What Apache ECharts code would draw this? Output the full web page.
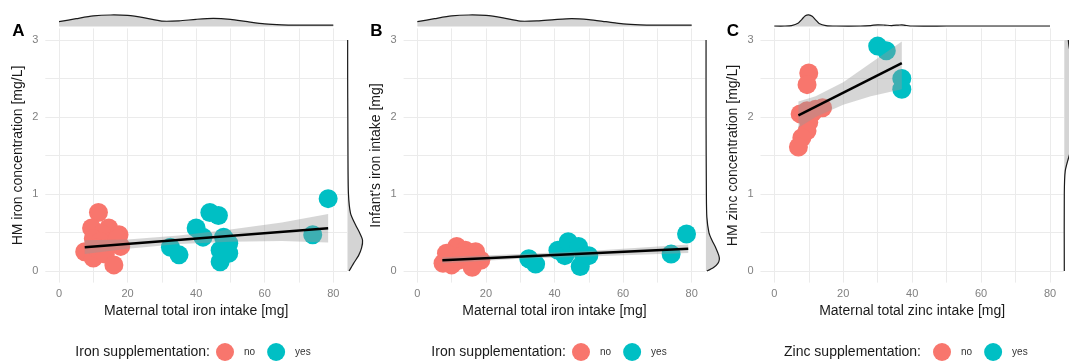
<!DOCTYPE html>
<html>
<head>
<meta charset="utf-8">
<script src="https://cdn.jsdelivr.net/npm/echarts@6.0.0/dist/echarts.min.js"></script>
<style>
html, body { margin: 0; padding: 0; background: #fff; }
#main { width: 1069px; height: 363px; }
</style>
</head>
<body>
<div id="main"></div>
<script>
// points: [maternal intake, value]
var ironNoA = [[11.5, 0.76], [9.5, 0.56], [14.5, 0.56], [17.5, 0.47], [12.5, 0.48], [10, 0.42], [15, 0.38],
    [12, 0.38], [18, 0.32], [7.5, 0.25], [10, 0.17], [11, 0.3], [13.5, 0.22], [16, 0.08], [17, 0.42]];
var ironYesA = [[32.5, 0.31], [35, 0.21], [40, 0.56], [42, 0.44], [44, 0.76], [46.5, 0.72], [48, 0.44],
    [49.5, 0.36], [47, 0.27], [47, 0.12], [49.5, 0.23], [48.5, 0.4], [74, 0.47], [78.5, 0.94]];
var ironNoB = [[11.5, 0.32], [8.5, 0.23], [7.5, 0.1], [10, 0.08], [14, 0.27], [17, 0.25], [18.5, 0.14],
    [16, 0.05], [12, 0.14], [13, 0.2]];
var ironYesB = [[32.5, 0.16], [34.5, 0.09], [41, 0.27], [43, 0.2], [44, 0.38], [47, 0.32], [48.5, 0.19],
    [47.5, 0.06], [50, 0.2], [74, 0.22], [78.5, 0.48]];
var zincNoC = [[10, 2.57], [9.5, 2.42], [14, 2.12], [9.5, 2.08], [7.5, 2.04], [11, 2.05], [10, 1.93],
    [9.5, 1.82], [8, 1.73], [7, 1.61], [12, 2.1]];
var zincYesC = [[30, 2.92], [32.5, 2.86], [37, 2.5], [37, 2.36]];

// fitted lines and their confidence bands [x, lower, upper]
var fitA = [[7.5, 0.31], [78.5, 0.555]];
var bandA = [[7.5, 0.22, 0.40], [20, 0.29, 0.41], [35, 0.35, 0.46], [50, 0.38, 0.54], [65, 0.39, 0.63], [78.5, 0.37, 0.74]];
var fitB = [[7.3, 0.14], [79, 0.29]];
var bandB = [[7.3, 0.10, 0.18], [30, 0.16, 0.22], [50, 0.19, 0.26], [79, 0.235, 0.345]];
var fitC = [[7, 2.02], [37, 2.70]];
var bandC = [[7, 1.86, 2.20], [12, 2.0, 2.27], [20, 2.16, 2.45], [28, 2.27, 2.70], [37, 2.36, 2.98]];

// marginal densities (share of margin size)
var topX = [0, 5, 10, 15, 20, 25, 30, 35, 40, 45, 50, 55, 60, 65, 70, 75, 80];
var topA = [0.4, 0.65, 0.88, 0.96, 0.92, 0.72, 0.45, 0.47, 0.6, 0.68, 0.6, 0.4, 0.22, 0.14, 0.12, 0.12, 0.12];
var topB = [0.4, 0.65, 0.88, 0.96, 0.92, 0.72, 0.45, 0.47, 0.58, 0.66, 0.58, 0.4, 0.22, 0.14, 0.12, 0.12, 0.12];
var topCX = [0, 3, 5, 7, 8, 9, 10, 11, 12, 13, 15, 18, 25, 28, 30, 32, 34, 36, 37, 38, 40, 50, 60, 70, 80];
var topC = [0.04, 0.04, 0.08, 0.3, 0.6, 0.9, 0.97, 0.85, 0.55, 0.25, 0.08, 0.04, 0.04, 0.08, 0.14, 0.12, 0.08, 0.12, 0.14,
    0.1, 0.04, 0.04, 0.04, 0.04, 0.04];
var rightAY = [0, 0.1, 0.2, 0.3, 0.4, 0.5, 0.6, 0.75, 1.0, 1.5, 2.0, 2.5, 3.0];
var rightA = [0.1, 0.38, 0.69, 0.88, 0.94, 0.75, 0.5, 0.19, 0.06, 0.03, 0.02, 0.01, 0.01];
var rightBY = [0, 0.05, 0.1, 0.15, 0.2, 0.3, 0.4, 0.5, 0.7, 1.0, 2.0, 3.0];
var rightB = [0.06, 0.5, 0.75, 0.84, 0.81, 0.62, 0.38, 0.19, 0.06, 0.03, 0.01, 0.01];
var rightCY = [0, 1.0, 1.3, 1.5, 1.7, 1.9, 2.1, 2.3, 2.5, 2.7, 2.9, 3.0];
var rightC = [0, 0, 0.06, 0.31, 0.62, 0.88, 1.0, 0.94, 0.81, 0.56, 0.31, 0.25];

var xGridVals = [0, 10, 20, 30, 40, 50, 60, 70, 80];
var xTickLabels = [0, 20, 40, 60, 80];
var yGridVals = [0, 0.5, 1, 1.5, 2, 2.5, 3];
var yTickLabels = [0, 1, 2, 3];

var xTitles = ['Maternal total iron intake [mg]', 'Maternal total iron intake [mg]', 'Maternal total zinc intake [mg]'];
var yTitles = ['HM iron concentration [mg/L]', "Infant's iron intake [mg]", 'HM zinc concentration [mg/L]'];
var legendTitles = ['Iron supplementation:', 'Iron supplementation:', 'Zinc supplementation:'];

var RED = '#F8766D', TEAL = '#00BFC4';
var FONT = '"Liberation Sans", Arial, sans-serif';

var panelLeft = [45.3, 403.6, 760.5];
var panelWidth = [301.7, 301.8, 303.3];
var panelTop = 28.4, panelHeight = 254.2;

var chart = echarts.init(document.getElementById('main'));

var grids = [], xAxes = [], yAxes = [], series = [];

for (var i = 0; i < 3; i++) {
    grids.push({left: panelLeft[i], top: panelTop, width: panelWidth[i], height: panelHeight, outerBoundsMode: 'none'});
    xAxes.push({
        gridIndex: i, type: 'value', min: -4, max: 84,
        name: xTitles[i], nameLocation: 'middle', nameGap: 21,
        nameTextStyle: {fontSize: 14, color: '#1a1a1a', fontFamily: FONT},
        axisLine: {show: false},
        axisTick: {show: false, customValues: xGridVals},
        axisLabel: {customValues: xTickLabels, color: '#808080', fontSize: 11, margin: 6, fontFamily: FONT},
        splitLine: {lineStyle: {color: '#ebebeb', width: 1}}
    });
    yAxes.push({
        gridIndex: i, type: 'value', min: -0.15, max: 3.15,
        name: yTitles[i], nameLocation: 'middle', nameGap: 20, nameRotate: 90,
        nameTextStyle: {fontSize: 14, color: '#1a1a1a', fontFamily: FONT},
        axisLine: {show: false},
        axisTick: {show: false, customValues: yGridVals},
        axisLabel: {customValues: yTickLabels, color: '#808080', fontSize: 11, margin: 7, fontFamily: FONT},
        splitLine: {lineStyle: {color: '#ebebeb', width: 1}}
    });
}
// top margins
for (var i = 0; i < 3; i++) {
    grids.push({left: panelLeft[i], top: 14.5, width: panelWidth[i], height: 12, outerBoundsMode: 'none'});
    xAxes.push({gridIndex: 3 + i, type: 'value', min: -4, max: 84, show: false});
    yAxes.push({gridIndex: 3 + i, type: 'value', min: 0, max: 1, show: false});
}
// right margins
for (var i = 0; i < 3; i++) {
    grids.push({left: panelLeft[i] + panelWidth[i] + 0.5, top: panelTop, width: 16, height: panelHeight, outerBoundsMode: 'none'});
    xAxes.push({gridIndex: 6 + i, type: 'value', min: 0, max: 1, show: false});
    yAxes.push({gridIndex: 6 + i, type: 'value', min: -0.15, max: 3.15, show: false});
}

function scatter(name, gi, data, color) {
    return {
        name: name, type: 'scatter', xAxisIndex: gi, yAxisIndex: gi, data: data,
        symbolSize: 19, itemStyle: {color: color, opacity: 1}, z: 2, silent: true
    };
}

function band(gi, rows) {
    return {
        type: 'custom', xAxisIndex: gi, yAxisIndex: gi, data: rows, z: 3, silent: true,
        renderItem: function (params, api) {
            if (params.dataIndex > 0) return;
            var up = rows.map(function (r) { return api.coord([r[0], r[2]]); });
            var lo = rows.map(function (r) { return api.coord([r[0], r[1]]); }).reverse();
            return {type: 'polygon', shape: {points: up.concat(lo)}, style: {fill: 'rgba(153,153,153,0.4)'}};
        }
    };
}

function fitLine(gi, pts) {
    return {
        type: 'line', xAxisIndex: gi, yAxisIndex: gi, data: pts, symbol: 'none', z: 4, silent: true,
        lineStyle: {color: '#000', width: 2.5}
    };
}

function ridge(gi, pos, dens, vertical) {
    var pts = pos.map(function (v, k) { return vertical ? [dens[k], v] : [v, dens[k]]; });
    return {
        type: 'custom', xAxisIndex: gi, yAxisIndex: gi, data: pts, silent: true, clip: false,
        renderItem: function (params, api) {
            if (params.dataIndex > 0) return;
            var curve = pts.map(function (p) { return api.coord(p); });
            var a = pos[0], b = pos[pos.length - 1];
            var base = vertical ? [api.coord([0, b]), api.coord([0, a])] : [api.coord([b, 0]), api.coord([a, 0])];
            return {
                type: 'group', children: [
                    {type: 'polygon', shape: {points: curve.concat(base)}, style: {fill: '#d4d4d4'}},
                    {type: 'polyline', shape: {points: curve, smooth: 0.25}, style: {stroke: '#1a1a1a', lineWidth: 1.2, fill: null}}
                ]
            };
        }
    };
}

series.push(scatter('no', 0, ironNoA, RED), scatter('yes', 0, ironYesA, TEAL), band(0, bandA), fitLine(0, fitA));
series.push(scatter('no', 1, ironNoB, RED), scatter('yes', 1, ironYesB, TEAL), band(1, bandB), fitLine(1, fitB));
series.push(scatter('no', 2, zincNoC, RED), scatter('yes', 2, zincYesC, TEAL), band(2, bandC), fitLine(2, fitC));
series.push(ridge(3, topX, topA, false), ridge(4, topX, topB, false), ridge(5, topCX, topC, false));
series.push(ridge(6, rightAY, rightA, true), ridge(7, rightBY, rightB, true), ridge(8, rightCY, rightC, true));

var legendLeft = [216, 572, 933];
var legendTitleRight = [210, 566, 921];
var legends = [], graphics = [];
for (var i = 0; i < 3; i++) {
    legends.push({
        left: legendLeft[i], top: 343, padding: 0, orient: 'horizontal', data: ['no', 'yes'],
        icon: 'circle', itemWidth: 28, itemHeight: 18, itemGap: 12, selectedMode: false,
        textStyle: {fontSize: 10, color: '#333', fontFamily: FONT}
    });
    graphics.push({
        type: 'text', x: legendTitleRight[i], y: 352,
        style: {text: legendTitles[i], fontSize: 14, fill: '#1a1a1a', fontFamily: FONT, align: 'right', verticalAlign: 'middle'}
    });
}
var letters = ['A', 'B', 'C'], letterX = [18.5, 376.5, 733];
for (var i = 0; i < 3; i++) {
    graphics.push({
        type: 'text', x: letterX[i], y: 31,
        style: {text: letters[i], fontSize: 17, fontWeight: 'bold', fill: '#000', fontFamily: FONT, align: 'center', verticalAlign: 'middle'}
    });
}

chart.setOption({
    animation: false,
    backgroundColor: '#fff',
    grid: grids,
    xAxis: xAxes,
    yAxis: yAxes,
    legend: legends,
    graphic: graphics,
    series: series
});
</script>
</body>
</html>
